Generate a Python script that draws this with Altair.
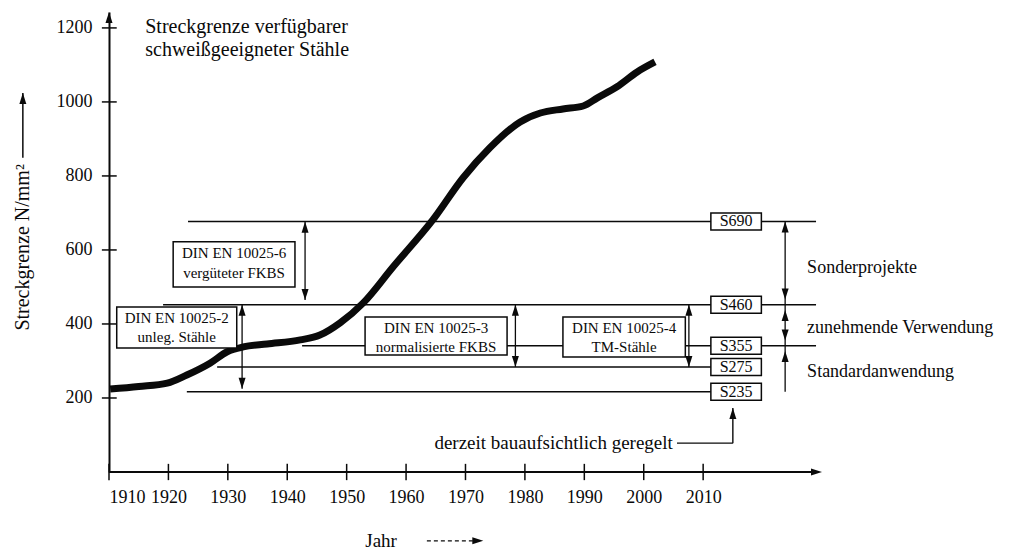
import altair as alt
import pandas as pd

FONT = "Liberation Serif"
INK = "#0a0a0a"

# ---------------- data ----------------
curve_years = [1910.2, 1915, 1919.8, 1923.1, 1927, 1929.9, 1932.6, 1936.6, 1942.2, 1945.5,
               1948.9, 1952.8, 1957.8, 1964.5, 1969.6, 1974.1, 1979.2, 1982.6, 1986.4,
               1989.8, 1992.2, 1995.5, 1998.9, 2001.9]
curve_values = [224, 231, 240, 262, 294, 325, 338, 346, 357, 370,
                403, 457, 554, 681, 795, 876, 946, 970, 981,
                989, 1011, 1041, 1081, 1108]

grade_labels = ["S690", "S460", "S355", "S275", "S235"]
grade_levels = [677, 452, 341, 284, 217]
grade_line_start = [1923.3, 1919.1, 1942.5, 1928.2, 1923.1]
grade_line_end = [2029, 2029, 2029, 2011.3, 2011.3]
grade_box_x = [2011.3, 2019.8]
grade_box_half = 23

din_line1 = ["DIN EN 10025-6", "DIN EN 10025-2", "DIN EN 10025-3", "DIN EN 10025-4"]
din_line2 = ["vergüteter FKBS", "unleg. Stähle", "normalisierte FKBS", "TM-Stähle"]
din_x0 = [1920.8, 1911.3, 1953.1, 1986.4]
din_x1 = [1941.3, 1931.5, 1977.0, 2007.0]
din_y0 = [500, 335, 316, 311]
din_y1 = [622, 446, 419, 419]
din_text_y1 = [592, 416, 389, 389]
din_text_y2 = [538, 365, 338, 338]
din_arrow_x = [1943, 1932.4, 1978.4, 2007.6]
din_arrow_top = [676, 452, 452, 452]
din_arrow_bottom = [465, 225, 284, 284]

usage_labels = ["Sonderprojekte", "zunehmende Verwendung", "Standardanwendung"]
usage_y = [551, 389, 270]
usage_x = 2027.5
usage_arrow_x = 2023.8
usage_arrow_range = [217, 677]
usage_up_tips = [677, 438, 327]
usage_down_tips = [466, 355]

x_ticks = [1910, 1920, 1930, 1940, 1950, 1960, 1970, 1980, 1990, 2000, 2010]
y_ticks = [200, 400, 600, 800, 1000, 1200]

XS = alt.Scale(domain=[1910, 2060.3], nice=False, zero=False)
YS = alt.Scale(domain=[0, 1243], nice=False, zero=False)

XAX = alt.Axis(values=x_ticks, domain=False, ticks=False, grid=False, labelPadding=16,
               labelFont=FONT, labelFontSize=18, labelColor=INK, title=None, format="d")
YAX = alt.Axis(values=y_ticks, domain=True, domainColor=INK, domainWidth=2, ticks=False, grid=False,
               labelPadding=17, labelFont=FONT, labelFontSize=18, labelColor=INK, title=None, format="d")


def X(f):
    return alt.X(f, type="quantitative", scale=XS, axis=XAX)


def Y(f):
    return alt.Y(f, type="quantitative", scale=YS, axis=YAX)


UP = "M0,0L0.7,2.2L-0.7,2.2Z"
DOWN = "M0,0L0.7,-2.2L-0.7,-2.2Z"
RIGHT = "M0,0L-2.2,0.7L-2.2,-0.7Z"

layers = []

# x axis line
xline = pd.DataFrame({"x": [1910], "x2": [2029], "y": [0]})
layers.append(alt.Chart(xline).mark_rule(color=INK, strokeWidth=2).encode(x=X("x"), x2="x2", y=Y("y")))

# tick marks crossing the axes
xt = pd.DataFrame({"x": x_ticks, "y": [-22] * len(x_ticks), "y2": [22] * len(x_ticks)})
layers.append(alt.Chart(xt).mark_rule(color=INK, strokeWidth=1.5).encode(x=X("x"), y=Y("y"), y2="y2"))
yt = pd.DataFrame({"y": y_ticks, "x": [1908.8] * len(y_ticks), "x2": [1911.3] * len(y_ticks)})
layers.append(alt.Chart(yt).mark_rule(color=INK, strokeWidth=1.5).encode(x=X("x"), x2="x2", y=Y("y")))

# grade lines
gl = pd.DataFrame({"label": grade_labels, "y": grade_levels, "x": grade_line_start, "x2": grade_line_end})
layers.append(alt.Chart(gl).mark_rule(color=INK, strokeWidth=1.5).encode(x=X("x"), x2="x2", y=Y("y")))

# curve
cdf = pd.DataFrame({"x": curve_years, "y": curve_values})
layers.append(alt.Chart(cdf).mark_line(color=INK, strokeWidth=7, interpolate="monotone",
                                       strokeCap="butt").encode(x=X("x"), y=Y("y")))

# grade boxes
gb = pd.DataFrame({"label": grade_labels, "yc": grade_levels,
                   "y0": [v - grade_box_half for v in grade_levels],
                   "y1": [v + grade_box_half for v in grade_levels],
                   "x0": [grade_box_x[0]] * 5, "x1": [grade_box_x[1]] * 5,
                   "xc": [(grade_box_x[0] + grade_box_x[1]) / 2] * 5})
layers.append(alt.Chart(gb).mark_rect(fill="white", stroke=INK, strokeWidth=1.5).encode(
    x=X("x0"), x2="x1", y=Y("y0"), y2="y1"))
layers.append(alt.Chart(gb).mark_text(font=FONT, fontSize=16, color=INK, baseline="middle").encode(
    x=X("xc"), y=Y("yc"), text="label:N"))

# DIN boxes
db = pd.DataFrame({"l1": din_line1, "l2": din_line2, "x0": din_x0, "x1": din_x1, "y0": din_y0, "y1": din_y1,
                   "xc": [(a + b) / 2 for a, b in zip(din_x0, din_x1)],
                   "t1": din_text_y1, "t2": din_text_y2})
layers.append(alt.Chart(db).mark_rect(fill="white", stroke=INK, strokeWidth=1.5).encode(
    x=X("x0"), x2="x1", y=Y("y0"), y2="y1"))
layers.append(alt.Chart(db).mark_text(font=FONT, fontSize=15, color=INK, baseline="middle").encode(
    x=X("xc"), y=Y("t1"), text="l1:N"))
layers.append(alt.Chart(db).mark_text(font=FONT, fontSize=15, color=INK, baseline="middle").encode(
    x=X("xc"), y=Y("t2"), text="l2:N"))

# DIN double arrows
da = pd.DataFrame({"x": din_arrow_x, "top": din_arrow_top, "bot": din_arrow_bottom})
layers.append(alt.Chart(da).mark_rule(color=INK, strokeWidth=1.3).encode(x=X("x"), y=Y("bot"), y2="top"))

# usage arrows and labels on the right
ua = pd.DataFrame({"x": [usage_arrow_x], "y": [usage_arrow_range[0]], "y2": [usage_arrow_range[1]]})
layers.append(alt.Chart(ua).mark_rule(color=INK, strokeWidth=1.3).encode(x=X("x"), y=Y("y"), y2="y2"))
ut = pd.DataFrame({"t": usage_labels, "y": usage_y, "x": [usage_x] * 3})
layers.append(alt.Chart(ut).mark_text(font=FONT, fontSize=18, color=INK, align="left", baseline="middle").encode(
    x=X("x"), y=Y("y"), text="t:N"))

# bottom annotation
note = pd.DataFrame({"t": ["derzeit bauaufsichtlich geregelt"], "x": [2004.9], "y": [78]})
layers.append(alt.Chart(note).mark_text(font=FONT, fontSize=19, color=INK, align="right", baseline="middle").encode(
    x=X("x"), y=Y("y"), text="t:N"))
nl = pd.DataFrame({"x": [2005.6], "x2": [2015], "y": [78]})
layers.append(alt.Chart(nl).mark_rule(color=INK, strokeWidth=1.4).encode(x=X("x"), x2="x2", y=Y("y")))
nv = pd.DataFrame({"x": [2015], "y": [78], "y2": [173]})
layers.append(alt.Chart(nv).mark_rule(color=INK, strokeWidth=1.4).encode(x=X("x"), y=Y("y"), y2="y2"))

# top title text
tt = pd.DataFrame({"t": ["Streckgrenze verfügbarer", "schweißgeeigneter Stähle"], "x": [1916.1, 1916.1],
                   "y": [1203, 1141]})
layers.append(alt.Chart(tt).mark_text(font=FONT, fontSize=20, color=INK, align="left", baseline="middle").encode(
    x=X("x"), y=Y("y"), text="t:N"))

# y title with arrow
yl = pd.DataFrame({"t": ["Streckgrenze N/mm²"], "x": [1895.5], "y": [607]})
layers.append(alt.Chart(yl).mark_text(font=FONT, fontSize=20, color=INK, angle=270, baseline="middle").encode(
    x=X("x"), y=Y("y"), text="t:N"))
ya = pd.DataFrame({"x": [1895.5], "y": [849], "y2": [1024]})
layers.append(alt.Chart(ya).mark_rule(color=INK, strokeWidth=1.5).encode(x=X("x"), y=Y("y"), y2="y2"))

# x title with dashed arrow
xl = pd.DataFrame({"t": ["Jahr"], "x": [1955.8], "y": [-186]})
layers.append(alt.Chart(xl).mark_text(font=FONT, fontSize=19, color=INK, baseline="middle").encode(
    x=X("x"), y=Y("y"), text="t:N"))
xa = pd.DataFrame({"x": [1963.5], "x2": [1971.5], "y": [-186]})
layers.append(alt.Chart(xa).mark_rule(color=INK, strokeWidth=1.2, strokeDash=[4, 3]).encode(
    x=X("x"), x2="x2", y=Y("y")))

# arrow heads
up_x = din_arrow_x + [usage_arrow_x] * 3 + [2015, 1895.5, 1910]
up_y = din_arrow_top + usage_up_tips + [173, 1024, 1243]
down_x = din_arrow_x + [usage_arrow_x] * 2
down_y = din_arrow_bottom + usage_down_tips
right_x = [2030, 1973]
right_y = [0, -186]
for xs_, ys_, shp in [(up_x, up_y, UP), (down_x, down_y, DOWN), (right_x, right_y, RIGHT)]:
    d = pd.DataFrame({"x": xs_, "y": ys_})
    layers.append(alt.Chart(d).mark_point(shape=shp, filled=True, color=INK, opacity=1, size=100,
                                          strokeWidth=0).encode(x=X("x"), y=Y("y")))

chart = alt.layer(*layers).properties(
    width=893, height=460,
    padding={"left": 101, "top": 4, "right": 0, "bottom": 79},
    autosize=alt.AutoSizeParams(type="none"),
    background="white",
).configure_view(stroke=None)

chart.save("out.html", embed_options={"renderer": "svg", "actions": False})
